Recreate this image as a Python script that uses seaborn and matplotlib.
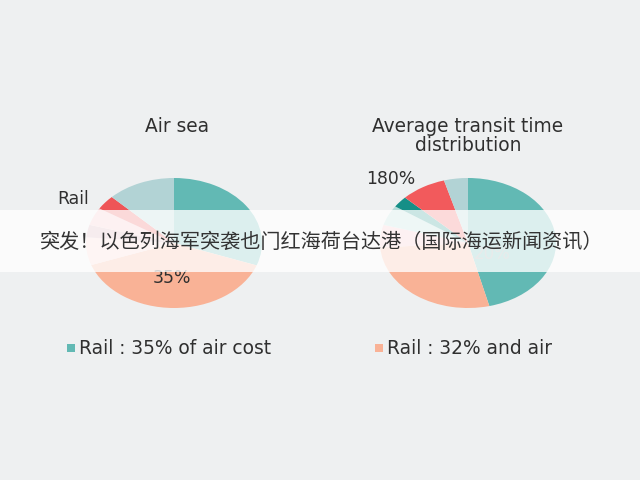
import matplotlib
matplotlib.use("Agg")
import matplotlib.pyplot as plt
import seaborn as sns
from matplotlib.patches import Rectangle

# ---- data ----
left_labels = ["Teal", "Salmon", "Light pink", "Mauve", "Pink", "Red", "Grey blue"]
left_values = [30.6, 38.9, 6.9, 3.1, 4.4, 3.6, 12.5]
left_colors = ["#62b9b4", "#f9b296", "#fcd3cf", "#d9aab4", "#f8c3c6", "#ee5557", "#b2d3d5"]

right_labels = ["Teal", "Salmon", "Pink", "Light teal", "Dark teal", "Red", "Grey blue"]
right_values = [46.1, 27.8, 5.6, 5.0, 2.8, 8.3, 4.4]
right_colors = ["#62b9b4", "#f9b296", "#f8c3c6", "#b4dcd9", "#158f87", "#f25a5c", "#b2d3d5"]

left_title = "Air sea"
right_title = "Average transit time\ndistribution"
left_legend = "Rail : 35% of air cost"
right_legend = "Rail : 32% and air"
banner_text = "突发！以色列海军突袭也门红海荷台达港（国际海运新闻资讯）"

sns.set_theme(style="white")
plt.rcParams["font.family"] = ["DejaVu Sans", "Noto Sans CJK SC"]

BG = "#eef0f1"
fig = plt.figure(figsize=(6.4, 4.8), dpi=100, facecolor=BG)

W, H = 640, 480
def fx(x): return x / W
def fy(y): return 1 - y / H

def pie_axes(x0, x1, y0, y1):
    ax = fig.add_axes([fx(x0), fy(y1), (x1 - x0) / W, (y1 - y0) / H])
    ax.set_facecolor("none")
    return ax

axL = pie_axes(86, 262, 178, 308)
axL.pie(left_values, colors=left_colors, startangle=90, counterclock=False,
        wedgeprops=dict(linewidth=0))
axL.set_aspect("auto")
axL.set_xlim(-1.0, 1.0); axL.set_ylim(-1.0, 1.0)
axL.axis("off")

axR = pie_axes(380, 556, 178, 308)
axR.pie(right_values, colors=right_colors, startangle=90, counterclock=False,
        wedgeprops=dict(linewidth=0))
axR.set_aspect("auto")
axR.set_xlim(-1.0, 1.0); axR.set_ylim(-1.0, 1.0)
axR.axis("off")
# faint label under the banner
fig.text(fx(492), fy(254), "20%", ha="center", va="center", fontsize=12,
         color="#9aa3a3", zorder=1)

TXT = "#2f2f2f"
FS = 13.4
fig.text(fx(177), fy(127), left_title, ha="center", va="center", fontsize=FS, color=TXT)
fig.text(fx(468), fy(136), right_title, ha="center", va="center", fontsize=FS,
         color=TXT, linespacing=1.0)
fig.text(fx(57), fy(199), "Rail", ha="left", va="center", fontsize=FS - 1, color=TXT)
fig.text(fx(366), fy(179), "180%", ha="left", va="center", fontsize=FS - 1, color=TXT)
fig.text(fx(172), fy(278), "35%", ha="center", va="center", fontsize=FS - 1, color=TXT)

# banner
fig.patches.append(Rectangle((0, fy(272)), 1, (272 - 210) / H, transform=fig.transFigure,
                             facecolor="white", alpha=0.78, edgecolor="none", zorder=5))
fig.text(fx(322), fy(242), banner_text, ha="center", va="center", fontsize=14.5,
         color="#333333", zorder=6,
         family=["Noto Sans CJK SC", "DejaVu Sans"])

# legend
fig.patches.append(Rectangle((fx(67), fy(352)), 8 / W, 8 / H, transform=fig.transFigure,
                             facecolor=left_colors[0], edgecolor="none", zorder=5))
fig.text(fx(79), fy(348), left_legend, ha="left", va="center", fontsize=FS, color=TXT)
fig.patches.append(Rectangle((fx(375), fy(352)), 8 / W, 8 / H, transform=fig.transFigure,
                             facecolor=left_colors[1], edgecolor="none", zorder=5))
fig.text(fx(387), fy(348), right_legend, ha="left", va="center", fontsize=FS, color=TXT)

fig.savefig("out.png", dpi=100, facecolor=BG)
